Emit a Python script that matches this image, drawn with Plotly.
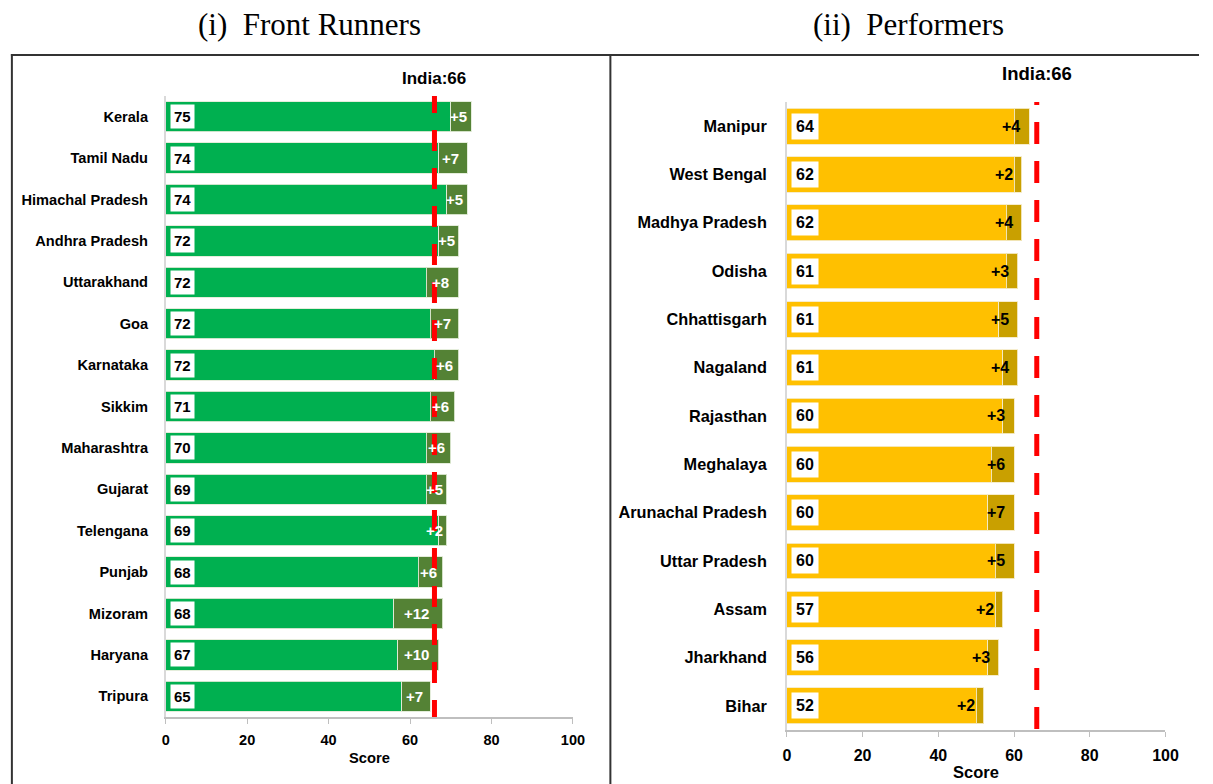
import plotly.graph_objects as go

# ---------------- data ----------------
front_states = ["Kerala", "Tamil Nadu", "Himachal Pradesh", "Andhra Pradesh", "Uttarakhand",
                "Goa", "Karnataka", "Sikkim", "Maharashtra", "Gujarat", "Telengana",
                "Punjab", "Mizoram", "Haryana", "Tripura"]
front_scores = [75, 74, 74, 72, 72, 72, 72, 71, 70, 69, 69, 68, 68, 67, 65]
front_gains = [5, 7, 5, 5, 8, 7, 6, 6, 6, 5, 2, 6, 12, 10, 7]

perf_states = ["Manipur", "West Bengal", "Madhya Pradesh", "Odisha", "Chhattisgarh",
               "Nagaland", "Rajasthan", "Meghalaya", "Arunachal Pradesh", "Uttar Pradesh",
               "Assam", "Jharkhand", "Bihar"]
perf_scores = [64, 62, 62, 61, 61, 61, 60, 60, 60, 60, 57, 56, 52]
perf_gains = [4, 2, 4, 3, 5, 4, 3, 6, 7, 5, 2, 3, 2]

india_score = 66
x_ticks = [0, 20, 40, 60, 80, 100]
panel_titles = ["(i)  Front Runners", "(ii)  Performers"]
axis_title = "Score"

# ---------------- styling ----------------
W, H = 1213, 784
SANS = "Liberation Sans"
SERIF = "Liberation Serif"
GREEN, DGREEN = "#00B050", "#548235"
YELLOW, DYELLOW = "#FFC000", "#C9A000"

def px_x(p):
    return p / W

def px_y(p):
    return 1 - p / H

fig = go.Figure()

front_base = [s - g for s, g in zip(front_scores, front_gains)]
perf_base = [s - g for s, g in zip(perf_scores, perf_gains)]

edge = dict(color="rgba(225,235,215,0.9)", width=1)
fig.add_trace(go.Bar(y=front_states, x=front_base, orientation="h", marker=dict(color=GREEN, line=edge),
                     width=0.73, xaxis="x", yaxis="y", showlegend=False, hoverinfo="skip"))
fig.add_trace(go.Bar(y=front_states, x=front_gains, orientation="h", marker=dict(color=DGREEN, line=edge),
                     width=0.73, xaxis="x", yaxis="y", showlegend=False, hoverinfo="skip"))
edge2 = dict(color="rgba(245,235,200,0.9)", width=1)
fig.add_trace(go.Bar(y=perf_states, x=perf_base, orientation="h", marker=dict(color=YELLOW, line=edge2),
                     width=0.74, xaxis="x2", yaxis="y2", showlegend=False, hoverinfo="skip"))
fig.add_trace(go.Bar(y=perf_states, x=perf_gains, orientation="h", marker=dict(color=DYELLOW, line=edge2),
                     width=0.74, xaxis="x2", yaxis="y2", showlegend=False, hoverinfo="skip"))

annotations = []
# score boxes and gain labels
for st, sc, g in zip(front_states, front_scores, front_gains):
    annotations.append(dict(x=0, y=st, xref="x", yref="y", text=f"<b>{sc}</b>", showarrow=False,
                            xanchor="left", xshift=4, bgcolor="white", borderpad=3,
                            font=dict(family=SANS, size=15, color="black")))
    if g <= 3:
        annotations.append(dict(x=sc, y=st, xref="x", yref="y", text=f"<b>+{g}</b>", showarrow=False,
                                xanchor="right", xshift=-2, font=dict(family=SANS, size=15, color="white")))
    else:
        annotations.append(dict(x=sc - g / 2, y=st, xref="x", yref="y", text=f"<b>+{g}</b>", showarrow=False,
                                xanchor="center", xshift=-2, font=dict(family=SANS, size=15, color="white")))
for st, sc, g in zip(perf_states, perf_scores, perf_gains):
    annotations.append(dict(x=0, y=st, xref="x2", yref="y2", text=f"<b>{sc}</b>", showarrow=False,
                            xanchor="left", xshift=4, bgcolor="white", borderpad=4,
                            font=dict(family=SANS, size=16, color="black")))
    annotations.append(dict(x=sc, y=st, xref="x2", yref="y2", text=f"<b>+{g}</b>", showarrow=False,
                            xanchor="right", xshift=-7, font=dict(family=SANS, size=16, color="black")))

# India labels
annotations.append(dict(x=india_score, y=px_y(78), xref="x", yref="paper", text=f"<b>India:{india_score}</b>",
                        showarrow=False, xanchor="center", yanchor="middle",
                        font=dict(family=SANS, size=17, color="black")))
annotations.append(dict(x=india_score, y=px_y(73), xref="x2", yref="paper", text=f"<b>India:{india_score}</b>",
                        showarrow=False, xanchor="center", yanchor="middle",
                        font=dict(family=SANS, size=18.5, color="black")))
# panel titles
annotations.append(dict(x=px_x(310), y=px_y(25), xref="paper", yref="paper", text=panel_titles[0],
                        showarrow=False, xanchor="center", yanchor="middle",
                        font=dict(family=SERIF, size=31, color="black")))
annotations.append(dict(x=px_x(917), y=px_y(25), xref="paper", yref="paper", text=panel_titles[1],
                        showarrow=False, xanchor="center", yanchor="middle",
                        font=dict(family=SERIF, size=31, color="black")))
# axis titles
annotations.append(dict(x=50, y=px_y(758), xref="x", yref="paper", text=f"<b>{axis_title}</b>",
                        showarrow=False, xanchor="center", yanchor="middle",
                        font=dict(family=SANS, size=14.7, color="black")))
annotations.append(dict(x=50, y=px_y(772), xref="x2", yref="paper", text=f"<b>{axis_title}</b>",
                        showarrow=False, xanchor="center", yanchor="middle",
                        font=dict(family=SANS, size=16.5, color="black")))

shapes = [
    # India reference lines
    dict(type="line", xref="x", yref="y domain", x0=india_score, x1=india_score, y0=1, y1=0,
         line=dict(color="#FF0000", width=5, dash="17px,17px,4px,0px")),
    dict(type="line", xref="x2", yref="y2 domain", x0=india_score, x1=india_score, y0=1, y1=0,
         line=dict(color="#FF0000", width=5, dash="3px,17px,19px,0px")),
    # panel frames
    dict(type="line", xref="paper", yref="paper", x0=px_x(7), x1=px_x(1212), y0=px_y(55), y1=px_y(55),
         line=dict(color="#333333", width=2)),
    dict(type="line", xref="paper", yref="paper", x0=px_x(8), x1=px_x(8), y0=px_y(54), y1=0,
         line=dict(color="#333333", width=2)),
    dict(type="line", xref="paper", yref="paper", x0=px_x(615), x1=px_x(615), y0=px_y(54), y1=0,
         line=dict(color="#333333", width=2)),
]

xcommon = dict(range=[0, 100], tickvals=x_ticks, showgrid=False, zeroline=False, showline=True,
               linecolor="#BFBFBF", linewidth=1.5, ticks="outside", ticklen=5, tickcolor="#BFBFBF",
               fixedrange=True)
ycommon = dict(type="category", autorange="reversed", showgrid=False, zeroline=False, showline=True,
               linecolor="#D9D9D9", linewidth=1.5, ticks="", fixedrange=True)

fig.update_layout(
    width=W, height=H, margin=dict(l=0, r=0, t=0, b=0),
    paper_bgcolor="white", plot_bgcolor="white", barmode="stack",
    xaxis=dict(xcommon, domain=[px_x(164), px_x(577)], anchor="y", ticklabelstandoff=4,
               tickfont=dict(family=SANS, size=14.5, color="black", weight="bold")),
    yaxis=dict(ycommon, domain=[px_y(717), px_y(96)], anchor="x", ticklabelstandoff=13,
               tickfont=dict(family=SANS, size=14.6, color="black", weight="bold")),
    xaxis2=dict(xcommon, domain=[px_x(794), px_x(1178)], anchor="y2", ticklabelstandoff=5,
                tickfont=dict(family=SANS, size=16, color="black", weight="bold")),
    yaxis2=dict(ycommon, domain=[px_y(730), px_y(102)], anchor="x2", ticklabelstandoff=15,
                tickfont=dict(family=SANS, size=16.3, color="black", weight="bold")),
    annotations=annotations, shapes=shapes,
)

fig.write_html(
    "out.html",
    config={"displayModeBar": False},
    post_script="document.body.style.margin='0';document.body.style.overflow='hidden';",
)
